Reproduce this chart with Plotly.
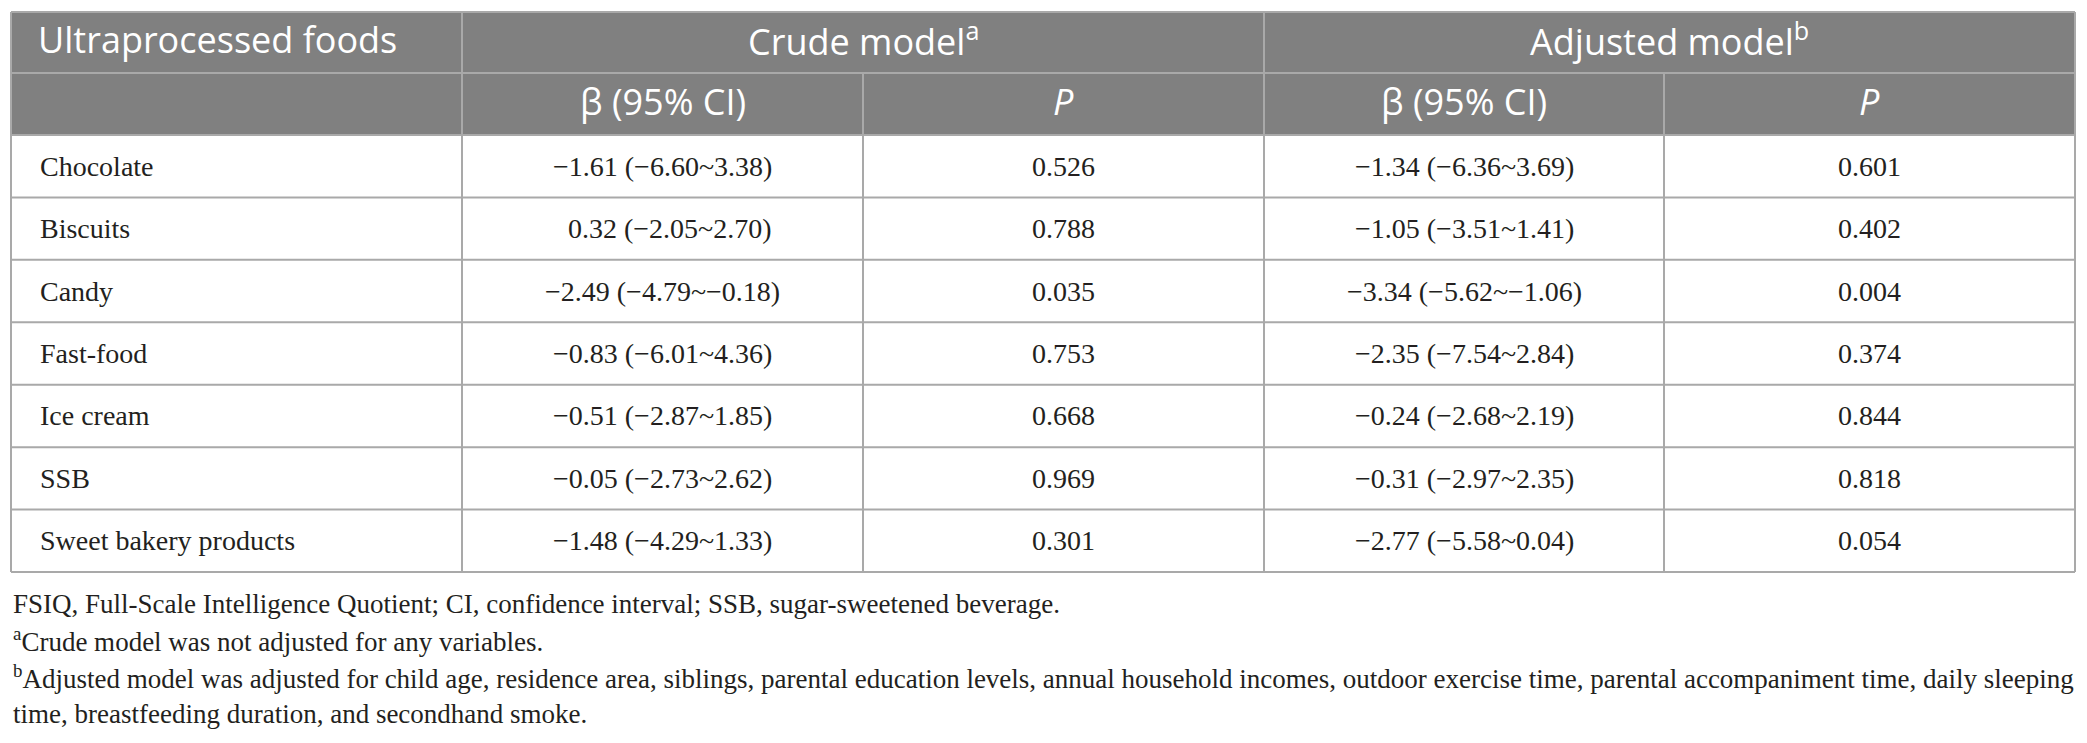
import plotly.graph_objects as go

# ---------------- data ----------------
foods = ["Chocolate", "Biscuits", "Candy", "Fast-food", "Ice cream", "SSB", "Sweet bakery products"]
crude_beta = ["−1.61 (−6.60~3.38)", "\u20070.32 (−2.05~2.70)", "−2.49 (−4.79~−0.18)",
              "−0.83 (−6.01~4.36)", "−0.51 (−2.87~1.85)", "−0.05 (−2.73~2.62)", "−1.48 (−4.29~1.33)"]
crude_p = ["0.526", "0.788", "0.035", "0.753", "0.668", "0.969", "0.301"]
adj_beta = ["−1.34 (−6.36~3.69)", "−1.05 (−3.51~1.41)", "−3.34 (−5.62~−1.06)",
            "−2.35 (−7.54~2.84)", "−0.24 (−2.68~2.19)", "−0.31 (−2.97~2.35)", "−2.77 (−5.58~0.04)"]
adj_p = ["0.601", "0.402", "0.004", "0.374", "0.844", "0.818", "0.054"]

header_top = ["Ultraprocessed foods", "Crude model<sup>a</sup>", "Adjusted model<sup>b</sup>"]
header_sub = ["", "β (95% CI)", "<i>P</i>", "β (95% CI)", "<i>P</i>"]

footnotes = [
    "FSIQ, Full-Scale Intelligence Quotient; CI, confidence interval; SSB, sugar-sweetened beverage.",
    "<sup>a</sup>Crude model was not adjusted for any variables.",
    "<sup>b</sup>Adjusted model was adjusted for child age, residence area, siblings, parental education levels, annual household incomes, outdoor exercise time, parental accompaniment time, daily sleeping",
    "time, breastfeeding duration, and secondhand smoke.",
]

# ---------------- geometry / style ----------------
W, H = 2087, 743
col_edges = [11, 462, 863, 1264, 1664, 2075]
head_edges = [12, 73, 135]
row_h = (572 - 135) / 7
row_edges = [135 + i * row_h for i in range(len(foods) + 1)]
foot_y = [604, 640, 677, 714]

HEAD_FILL = "#808080"
LINE = "#a9a9a9"
TXT = "#231f20"
SANS = "Open Sans"
SERIF = "Liberation Serif"
HEAD_SIZE = 36
BODY_SIZE = 28
FOOT_SIZE = 27
HEAD_SHIFT = -3

fig = go.Figure()
shapes = []

shapes.append(dict(type="rect", xref="x", yref="y", x0=col_edges[0], x1=col_edges[-1],
                   y0=head_edges[0], y1=head_edges[-1], fillcolor=HEAD_FILL, line_width=0, layer="below"))

def hline(y, x0, x1):
    shapes.append(dict(type="line", xref="x", yref="y", x0=x0, x1=x1, y0=y, y1=y,
                       line=dict(color=LINE, width=2)))

def vline(x, y0, y1):
    shapes.append(dict(type="line", xref="x", yref="y", x0=x, x1=x, y0=y0, y1=y1,
                       line=dict(color=LINE, width=2)))

for y in head_edges + row_edges[1:]:
    hline(y, col_edges[0], col_edges[-1])
for x in [col_edges[0], col_edges[1], col_edges[3], col_edges[5]]:
    vline(x, head_edges[0], row_edges[-1])
for x in [col_edges[2], col_edges[4]]:
    vline(x, head_edges[1], row_edges[-1])

ann = []
hy0 = (head_edges[0] + head_edges[1]) / 2 + HEAD_SHIFT
hy1 = (head_edges[1] + head_edges[2]) / 2 + HEAD_SHIFT
hfont = dict(family=SANS, size=HEAD_SIZE, color="white")
ann.append(dict(x=col_edges[0] + 25, y=hy0, xref="x", yref="y", text=header_top[0], showarrow=False,
                xanchor="left", yanchor="middle", font=hfont))
ann.append(dict(x=(col_edges[1] + col_edges[3]) / 2, y=hy0, xref="x", yref="y", text=header_top[1],
                showarrow=False, xanchor="center", yanchor="middle", font=hfont))
ann.append(dict(x=(col_edges[3] + col_edges[5]) / 2, y=hy0, xref="x", yref="y", text=header_top[2],
                showarrow=False, xanchor="center", yanchor="middle", font=hfont))
for i, t in enumerate(header_sub):
    if t:
        ann.append(dict(x=(col_edges[i] + col_edges[i + 1]) / 2, y=hy1, xref="x", yref="y", text=t,
                        showarrow=False, xanchor="center", yanchor="middle", font=hfont))

row_centers = [(row_edges[i] + row_edges[i + 1]) / 2 for i in range(len(foods))]
bfont = dict(family=SERIF, size=BODY_SIZE, color=TXT)
for i, name in enumerate(foods):
    ann.append(dict(x=col_edges[0] + 27, y=row_centers[i], xref="x", yref="y", text=name, showarrow=False,
                    xanchor="left", yanchor="middle", font=bfont))
for ci, col in enumerate([crude_beta, crude_p, adj_beta, adj_p], start=1):
    xc = (col_edges[ci] + col_edges[ci + 1]) / 2
    for i, t in enumerate(col):
        ann.append(dict(x=xc, y=row_centers[i], xref="x", yref="y", text=t, showarrow=False,
                        xanchor="center", yanchor="middle", font=bfont))

ffont = dict(family=SERIF, size=FOOT_SIZE, color=TXT)
for t, y in zip(footnotes, foot_y):
    ann.append(dict(x=col_edges[0], y=y, xref="x", yref="y", text=t, showarrow=False,
                    xanchor="left", yanchor="middle", font=ffont))

fig.add_trace(go.Scatter(x=[0, W], y=[0, H], mode="markers", marker=dict(opacity=0),
                         hoverinfo="skip", showlegend=False))

fig.update_layout(
    width=W, height=H, margin=dict(l=0, r=0, t=0, b=0),
    paper_bgcolor="white", plot_bgcolor="white",
    xaxis=dict(range=[0, W], visible=False, fixedrange=True),
    yaxis=dict(range=[H, 0], visible=False, fixedrange=True),
    shapes=shapes, annotations=ann, showlegend=False,
)

fig.write_html("out.html", config={"displayModeBar": False},
               post_script="document.body.style.margin='0';document.body.style.overflow='hidden';")
